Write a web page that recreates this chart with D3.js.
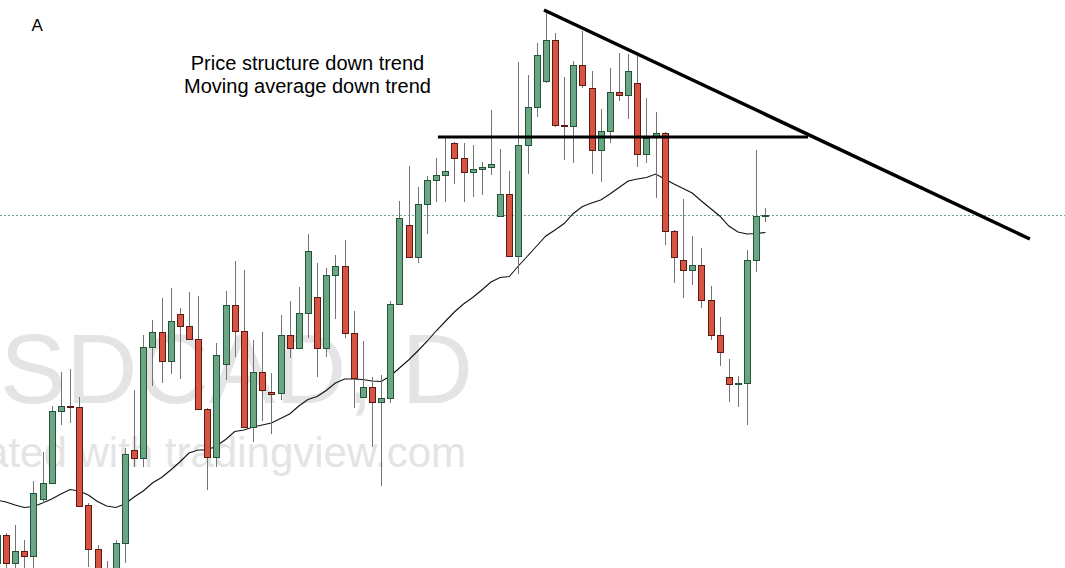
<!DOCTYPE html>
<html><head><meta charset="utf-8">
<script src="https://cdn.jsdelivr.net/npm/d3@7"></script>
<style>html,body{margin:0;padding:0;background:#fff;overflow:hidden}</style>
</head><body><svg id="chart" width="1065" height="568"></svg>
<script>
// ---- Data (USDCAD daily) ----
const firstIndex = -1;
const opens = [1.2674,1.2730,1.2674,1.2698,1.2688,1.2802,1.2834,1.2978,1.2988,1.2986,
1.2790,1.2702,1.2620,1.2640,1.2714,1.2900,1.2884,1.3106,1.3136,1.3078,
1.3172,1.3148,1.3122,1.2982,1.2886,1.3072,1.3190,1.3138,1.2946,1.3056,
1.3016,1.3014,1.3130,1.3104,1.3174,1.3206,1.3104,1.3250,1.3268,1.3134,
1.3006,1.3026,1.2996,1.3004,1.3192,1.3350,1.3286,1.3392,1.3440,1.3450,
1.3514,1.3484,1.3456,1.3462,1.3466,1.3368,1.3412,1.3288,1.3510,1.3586,
1.3638,1.3720,1.3550,1.3548,1.3670,1.3624,1.3500,1.3538,1.3616,1.3610,
1.3634,1.3492,1.3528,1.3534,1.3338,1.3280,1.3260,1.3270,1.3200,1.3130,
1.3046,1.3032,1.3034,1.3280,1.3368];
const highs = [1.2740,1.2734,1.2750,1.2720,1.2838,1.2896,1.2988,1.3056,1.3062,1.3006,
1.2794,1.2710,1.2678,1.2720,1.2904,1.3020,1.3130,1.3160,1.3204,1.3224,
1.3184,1.3216,1.3208,1.2984,1.3114,1.3218,1.3278,1.3260,1.3120,1.3136,
1.3054,1.3170,1.3198,1.3226,1.3332,1.3274,1.3264,1.3290,1.3320,1.3178,
1.3118,1.3046,1.3050,1.3198,1.3398,1.3468,1.3426,1.3448,1.3484,1.3524,
1.3516,1.3514,1.3510,1.3476,1.3580,1.3502,1.3458,1.3676,1.3650,1.3714,
1.3776,1.3734,1.3646,1.3678,1.3738,1.3658,1.3582,1.3664,1.3694,1.3692,
1.3696,1.3604,1.3576,1.3536,1.3340,1.3402,1.3328,1.3304,1.3228,1.3166,
1.3082,1.3048,1.3300,1.3500,1.3384];
const lows = [1.2660,1.2656,1.2660,1.2664,1.2660,1.2794,1.2832,1.2950,1.2954,1.2786,
1.2666,1.2652,1.2610,1.2630,1.2674,1.2866,1.2866,1.3028,1.3034,1.3052,
1.3042,1.3120,1.2980,1.2820,1.2866,1.3040,1.3086,1.2944,1.2916,1.2958,
1.2932,1.3000,1.3084,1.3102,1.3124,1.3046,1.3086,1.3162,1.3124,1.2984,
1.3004,1.2906,1.2828,1.2994,1.3190,1.3284,1.3274,1.3332,1.3396,1.3396,
1.3432,1.3396,1.3406,1.3410,1.3450,1.3366,1.3286,1.3252,1.3452,1.3566,
1.3634,1.3546,1.3480,1.3474,1.3624,1.3452,1.3436,1.3514,1.3598,1.3562,
1.3466,1.3474,1.3404,1.3310,1.3234,1.3204,1.3230,1.3184,1.3120,1.3068,
1.2996,1.2986,1.2950,1.3256,1.3356];
const closes = [1.2730,1.2674,1.2698,1.2688,1.2814,1.2834,1.2978,1.2988,1.2985,1.2788,
1.2702,1.2660,1.2650,1.2714,1.2892,1.2884,1.3106,1.3136,1.3078,1.3158,
1.3148,1.3122,1.2982,1.2886,1.3090,1.3190,1.3138,1.2946,1.3056,1.3020,
1.3013,1.3130,1.3104,1.3174,1.3298,1.3104,1.3250,1.3268,1.3134,1.3044,
1.3026,1.2996,1.3004,1.3192,1.3364,1.3286,1.3392,1.3440,1.3450,1.3458,
1.3484,1.3456,1.3462,1.3466,1.3472,1.3412,1.3288,1.3510,1.3586,1.3690,
1.3720,1.3550,1.3547,1.3670,1.3630,1.3500,1.3538,1.3616,1.3610,1.3658,
1.3492,1.3524,1.3534,1.3338,1.3286,1.3260,1.3270,1.3200,1.3130,1.3096,
1.3032,1.3034,1.3280,1.3368,1.3370];
const movingAverage = [1.2800,1.2796,1.2790,1.2785,1.2787,1.2794,1.2802,1.2812,1.2821,1.2818,
1.2810,1.2797,1.2788,1.2785,1.2792,1.2806,1.2818,1.2834,1.2845,1.2860,
1.2876,1.2894,1.2900,1.2900,1.2908,1.2921,1.2937,1.2940,1.2946,1.2950,
1.2954,1.2963,1.2972,1.2988,1.3001,1.3007,1.3019,1.3034,1.3042,1.3042,
1.3041,1.3038,1.3037,1.3048,1.3064,1.3080,1.3098,1.3117,1.3138,1.3157,
1.3176,1.3192,1.3205,1.3220,1.3236,1.3245,1.3247,1.3268,1.3288,1.3308,
1.3328,1.3340,1.3353,1.3373,1.3387,1.3394,1.3400,1.3412,1.3425,1.3438,
1.3442,1.3445,1.3452,1.3442,1.3432,1.3423,1.3414,1.3398,1.3383,1.3368,
1.3348,1.3336,1.3332,1.3333,1.3335];
const lastPrice = 1.3369;
// drawn annotations: [barIndex, price]
const trendLine = [[58.8, 1.3780], [111.9, 1.3322]];
const supportLine = [[47.2, 1.3526], [87.65, 1.3526]];
const labelA = "A";
const noteLines = ["Price structure down trend", "Moving average down trend"];
const watermark = ["USDCAD, D", "Created with tradingview.com"];

// ---- Drawing ----
const W = 1065, H = 568;
const svg = d3.select('#chart');
const x = d3.scaleLinear().domain([0, 100]).range([6, 921]);
const y = d3.scaleLinear().domain([1.2664, 1.38]).range([H, 0]);
const font = "'Liberation Sans', Arial, sans-serif";

const bars = opens.map((o, k) => ({i: firstIndex + k, o, h: highs[k], l: lows[k], c: closes[k], ma: movingAverage[k]}));

// watermark
const wm = svg.append('g').attr('font-family', font).attr('fill', '#e4e4e4').attr('text-anchor', 'end');
wm.append('text').attr('x', 473).attr('y', 403).attr('font-size', 99).text(watermark[0]);
wm.append('text').attr('x', 466).attr('y', 466.5).attr('font-size', 42).text(watermark[1]);

// last price line
svg.append('line')
  .attr('x1', 0).attr('x2', W)
  .attr('y1', Math.round(y(lastPrice)) + 0.5).attr('y2', Math.round(y(lastPrice)) + 0.5)
  .attr('stroke', '#6ba583').attr('stroke-width', 1).attr('stroke-dasharray', '2,2');

// moving average
svg.append('path').datum(bars)
  .attr('fill', 'none').attr('stroke', '#111').attr('stroke-width', 1.1)
  .attr('d', d3.line().x(d => x(d.i)).y(d => y(d.ma)));

// candles
const cg = svg.append('g');
const cx = d => Math.round(x(d.i)) + 0.5;
cg.selectAll('line.wick').data(bars).join('line')
  .attr('class', 'wick')
  .attr('x1', cx).attr('x2', cx)
  .attr('y1', d => y(d.h)).attr('y2', d => y(d.l))
  .attr('stroke', '#737375').attr('stroke-width', 1);
cg.selectAll('rect.body').data(bars).join('rect')
  .attr('class', 'body')
  .attr('x', d => cx(d) - 3)
  .attr('width', 6)
  .attr('y', d => Math.round(y(Math.max(d.o, d.c))) + 0.5)
  .attr('height', d => Math.max(1, Math.round(Math.abs(y(d.o) - y(d.c)))))
  .attr('fill', d => d.c >= d.o ? '#6ba583' : '#d75442')
  .attr('stroke', d => d.c >= d.o ? '#225437' : '#5b1a13')
  .attr('stroke-width', 1);

// annotation lines
svg.append('line')
  .attr('x1', x(supportLine[0][0])).attr('y1', y(supportLine[0][1]))
  .attr('x2', x(supportLine[1][0])).attr('y2', y(supportLine[1][1]))
  .attr('stroke', '#000').attr('stroke-width', 3);
svg.append('line')
  .attr('x1', x(trendLine[0][0])).attr('y1', y(trendLine[0][1]))
  .attr('x2', x(trendLine[1][0])).attr('y2', y(trendLine[1][1]))
  .attr('stroke', '#000').attr('stroke-width', 3.5);

// texts
svg.append('text').attr('x', 31.5).attr('y', 30.5).attr('font-family', font)
  .attr('font-size', 17).attr('fill', '#000').text(labelA);
svg.selectAll('text.note').data(noteLines).join('text')
  .attr('class', 'note')
  .attr('x', 307.5).attr('y', (d, k) => 70 + k * 23.3)
  .attr('text-anchor', 'middle').attr('font-family', font)
  .attr('font-size', 20).attr('fill', '#000').text(d => d);
</script></body></html>
